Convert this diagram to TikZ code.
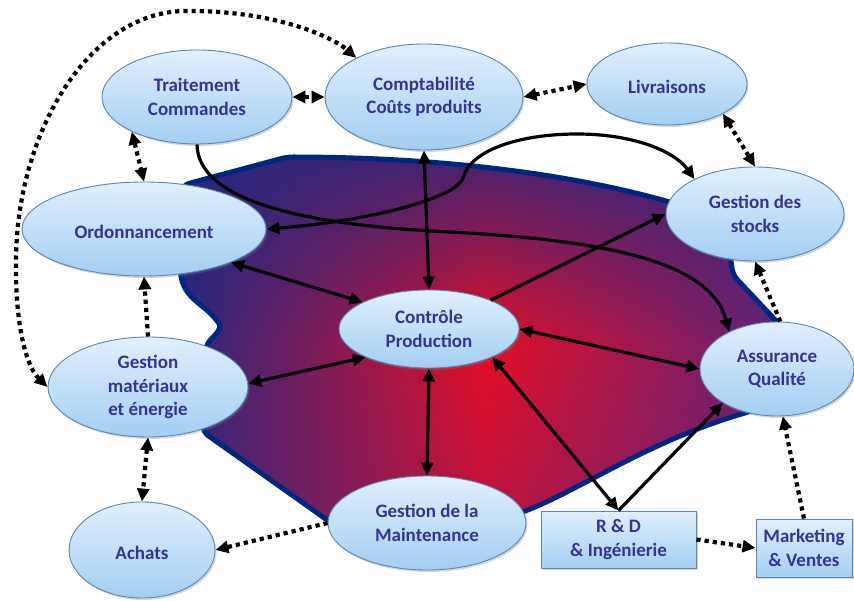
\documentclass[tikz,border=0pt]{standalone}
\usepackage{fontspec}
\setmainfont{Carlito}
\usetikzlibrary{arrows.meta,shapes.geometric,shadows,fadings}
\definecolor{txt}{RGB}{55,50,150}
\definecolor{elltop}{RGB}{225,239,252}
\definecolor{ellbot}{RGB}{163,206,242}
\definecolor{elldraw}{RGB}{90,135,175}
\definecolor{blobnavy}{RGB}{0,38,128}
\definecolor{bl}{RGB}{38,40,128}
\definecolor{bm}{RGB}{228,14,38}
\definecolor{br}{RGB}{92,36,122}
\tikzfading[name=fadetop, top color=transparent!15, bottom color=transparent!100]
\tikzfading[name=fadebot, top color=transparent!100, bottom color=transparent!70]
\def\blobpath{(183,185) -- (287,157) .. controls (420,157) and (560,170) .. (680,205) -- (728,240) -- (733,275) -- (780,325) -- (792,370) -- (752,411) .. controls (650,440) and (580,490) .. (520,513) -- (330,522) -- (203,432) -- (205,350) .. controls (210,338) and (224,330) .. (215,318) .. controls (200,303) and (184,296) .. (180,270) -- (176,230) -- cycle}
\begin{document}
\begin{tikzpicture}[x=1pt,y=-1pt,
  >={Triangle[length=13pt,width=12pt]},
  lbl/.style={font=\bfseries\fontsize{19}{23.5}\selectfont, text=txt, align=center},
  ell/.style={lbl, ellipse, inner sep=0pt, draw=elldraw, line width=0.9pt,
    top color=elltop, bottom color=ellbot,
    execute at begin node={\rule{0pt}{20pt}},
    drop shadow={opacity=0.3, shadow xshift=1.5pt, shadow yshift=-2pt}},
  box/.style={lbl, rectangle, inner sep=0pt, draw=elldraw, line width=0.9pt,
    top color=elltop, bottom color=ellbot,
    execute at begin node={\rule{0pt}{17pt}},
    drop shadow={opacity=0.3, shadow xshift=1.5pt, shadow yshift=-2pt}},
  sol/.style={line width=3.2pt, black},
  dots/.style={line width=4.2pt, black, dash pattern=on 4.2pt off 4pt}
]
\fill[white] (0,0) rectangle (854,601);
\useasboundingbox (0,0) rectangle (854,601);

% central shape
\shade[left color=bl, right color=br, middle color=bm] \blobpath;
\begin{scope}
  \clip \blobpath;
  \fill[bl, path fading=fadetop] (170,150) rectangle (800,345);
  \fill[br, path fading=fadebot] (170,345) rectangle (800,530);
\end{scope}
\draw[blobnavy, line width=5pt, line join=round, rounded corners=6pt] \blobpath;

% nodes
\node[ell, minimum width=190pt, minimum height=94pt] (tc) at (197,97) {Traitement\\Commandes};
\node[ell, minimum width=198pt, minimum height=106pt] (cp) at (424,97) {Comptabilité\\Coûts produits};
\node[ell, minimum width=160pt, minimum height=82pt] (liv) at (667,84) {Livraisons};
\node[ell, minimum width=244pt, minimum height=94pt] (ord) at (144,229) {Ordonnancement};
\node[ell, minimum width=178pt, minimum height=94pt] (stk) at (755,214) {Gestion des\\stocks};
\node[ell, minimum width=180pt, minimum height=78pt] (ctl) at (429,329) {Contrôle\\Production};
\node[ell, minimum width=154pt, minimum height=94pt] (aq) at (777,369) {Assurance\\Qualité};
\node[ell, minimum width=200pt, minimum height=100pt] (mat) at (148,387) {Gestion\\matériaux\\et énergie};
\node[ell, minimum width=146pt, minimum height=96pt] (ach) at (142,550) {Achats};
\node[ell, minimum width=198pt, minimum height=94pt] (mnt) at (427,523) {Gestion de la\\Maintenance};
\node[box, minimum width=155pt, minimum height=57pt] (rd) at (618.5,539.5) {R \& D\\\& Ingénierie};
\node[box, minimum width=96pt, minimum height=58pt] (mkt) at (804,548) {Marketing\\\& Ventes};

% dotted connectors
\draw[dots,<->] (tc.east) -- (cp.west);
\draw[dots,<->] (cp.east) -- (liv.west);
\draw[dots,<->] (liv.-28) -- (stk.north);
\draw[dots,<->] (tc.208) -- (ord.north);
\draw[dots,<->] (mat.west) .. controls (25,365) and (15,320) .. (16,260)
   .. controls (17,130) and (90,12) .. (185,11)
   .. controls (270,10) and (330,35) .. (cp.150);
\draw[dots,->] (mat.north) -- (ord.south);
\draw[dots,<->] (mat.south) -- (ach.north);
\draw[dots,->] (mnt.west) -- (ach.east);
\draw[dots,->] (rd.east) -- (mkt.west);
\draw[dots,->] (mkt.north) -- (aq.-83);
\draw[dots,->] (aq.86) -- (stk.south);

% solid connectors
\draw[sol,<->] (cp.south) -- (ctl.north);
\draw[sol,<->] (ord.-21) -- (ctl.158);
\draw[sol,<->] (mat.2) -- (ctl.204);
\draw[sol,<->] (ctl.south) -- (mnt.north);
\draw[sol,<->] (ctl.east) -- (aq.west);
\draw[sol,->] (ctl.25) -- (stk.west);
\draw[sol,<->] (ctl.-24) -- (rd.north);
\draw[sol,->] (rd.north) -- (aq.212);
\draw[sol,->] (tc.south) .. controls (198,200) and (300,225) .. (450,232)
   .. controls (600,240) and (710,260) .. (aq.142);
\draw[sol,<->] (ord.east) .. controls (360,222) and (455,200) .. (463,178)
   .. controls (470,150) and (520,134) .. (577,134)
   .. controls (635,134) and (675,152) .. (stk.150);
\end{tikzpicture}
\end{document}
